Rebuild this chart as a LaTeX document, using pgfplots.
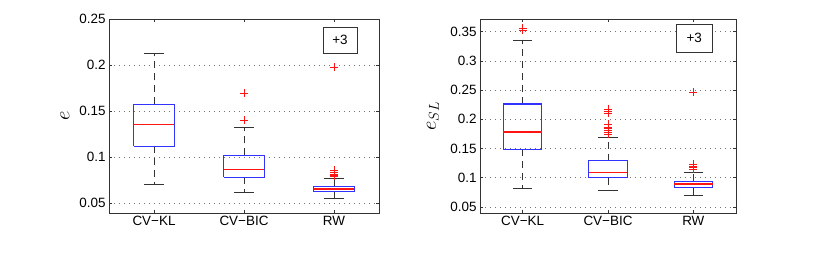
\documentclass[border=0pt]{standalone}
\usepackage{fontspec}
\setmainfont{Liberation Sans}
\usepackage{pgfplots}
\pgfplotsset{compat=1.18}
\definecolor{boxblue}{RGB}{50,50,255}
\definecolor{medred}{RGB}{255,20,20}
\tikzset{
  plusthree/.style={draw=black!80, fill=white, line width=0.6bp, inner sep=0pt,
    font=\fontsize{13.5}{16}\selectfont},
}
% box: x-left, x-right, lower quartile, median, upper quartile
\newcommand{\boxq}[5]{%
  \addplot[draw=boxblue, line width=1.2bp, mark=none] coordinates {(#1,#3) (#2,#3) (#2,#5) (#1,#5) (#1,#3)};
  \addplot[draw=medred, line width=1.1bp, mark=none] coordinates {(#1,#4) (#2,#4)};
}
% whiskers: x-centre, cap-left, cap-right, lower whisker, lower quartile, upper quartile, upper whisker
\newcommand{\whisk}[7]{%
  \addplot[black!80, line width=0.9bp, dash pattern=on 7bp off 5bp, mark=none] coordinates {(#1,#5) (#1,#4)};
  \addplot[black!80, line width=0.9bp, dash pattern=on 7bp off 5bp, mark=none] coordinates {(#1,#6) (#1,#7)};
  \addplot[black!80, line width=0.9bp, mark=none] coordinates {(#2,#4) (#3,#4)};
  \addplot[black!80, line width=0.9bp, mark=none] coordinates {(#2,#7) (#3,#7)};
}
\pgfplotsset{
  outl/.style={only marks, mark=+, mark size=4bp, mark options={medred, solid, line width=0.7bp}},
  base/.style={
    scale only axis,
    anchor=south west,
    xmin=0.5, xmax=3.5,
    xtick={1,2,3}, xticklabels={CV−KL,CV−BIC,RW},
    tick align=inside, major tick length=3bp,
    axis line style={black!80, line width=0.6bp},
    every tick/.style={black!80, line width=0.6bp},
    ymajorgrids,
    grid style={black!55, line width=0.7bp, dash pattern=on 1bp off 4bp},
    tick label style={font=\fontsize{13.5}{16}\selectfont},
    ylabel style={font=\fontsize{20}{24}\selectfont, anchor=center},
    clip marker paths=true,
  },
}
\begin{document}
\begin{tikzpicture}[x=1bp,y=1bp]
\path[use as bounding box] (0,0) rectangle (814,263);
% left panel
\begin{axis}[base, at={(109bp,50bp)}, width=270bp, height=194bp,
  ymin=0.0395, ymax=0.2503,
  ytick={0.05,0.1,0.15,0.2,0.25}, yticklabels={0.05,0.1,0.15,0.2,0.25},
  ylabel={$e$}, ylabel style={at={(axis description cs:-0.163,0.5)}}]
% CV-KL
\whisk{1}{0.8875}{1.1125}{0.071}{0.1118}{0.1575}{0.213}
\boxq{0.775}{1.225}{0.1118}{0.1357}{0.1575}
% CV-BIC
\whisk{2}{1.8875}{2.1125}{0.0617}{0.0783}{0.102}{0.133}
\boxq{1.775}{2.225}{0.0783}{0.0867}{0.102}
\addplot[outl] coordinates {(2,0.1696) (2,0.1405)};
% RW
\whisk{3}{2.8875}{3.1125}{0.0548}{0.0627}{0.0685}{0.0772}
\boxq{2.775}{3.225}{0.0627}{0.0656}{0.0685}
\addplot[outl] coordinates {(3,0.1978) (3,0.0859) (3,0.0835) (3,0.0815) (3,0.0805) (3,0.0795)};
\node[plusthree, minimum width=34bp, minimum height=26bp] at (axis cs:3.067,0.2275) {+3};
\end{axis}
% right panel
\begin{axis}[base, at={(480bp,50bp)}, width=256bp, height=194bp,
  ymin=0.0397, ymax=0.3717,
  ytick={0.05,0.1,0.15,0.2,0.25,0.3,0.35}, yticklabels={0.05,0.1,0.15,0.2,0.25,0.3,0.35},
  ylabel={$e_{SL}$}, ylabel style={at={(axis description cs:-0.184,0.5)}}]
% CV-KL
\whisk{1}{0.8875}{1.1125}{0.0818}{0.1486}{0.2262}{0.335}
\boxq{0.775}{1.225}{0.1486}{0.1783}{0.2262}
\addplot[outl] coordinates {(1,0.3558) (1,0.353)};
% CV-BIC
\whisk{2}{1.8875}{2.1125}{0.079}{0.100}{0.129}{0.1685}
\boxq{1.775}{2.225}{0.100}{0.1092}{0.129}
\addplot[outl] coordinates {(2,0.217) (2,0.213) (2,0.211) (2,0.192) (2,0.187) (2,0.184) (2,0.181) (2,0.178) (2,0.175)};
% RW
\whisk{3}{2.8875}{3.1125}{0.070}{0.0829}{0.0938}{0.1086}
\boxq{2.775}{3.225}{0.0829}{0.0893}{0.0938}
\addplot[outl] coordinates {(3,0.376) (3,0.2462) (3,0.1235) (3,0.119) (3,0.117) (3,0.115) (3,0.1145)};
\node[plusthree, minimum width=36bp, minimum height=28bp] at (axis cs:3.01,0.339) {+3};
\end{axis}
\end{tikzpicture}
\end{document}
